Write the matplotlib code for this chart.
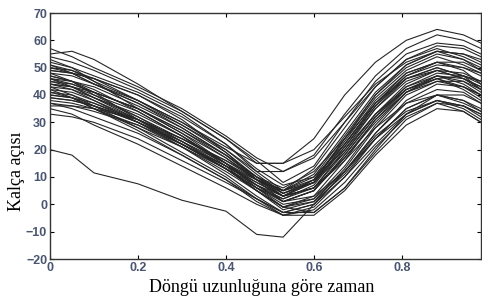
import matplotlib
matplotlib.use("Agg")
import matplotlib.pyplot as plt

# normalised gait cycle knots (same for every curve)
cycle = [0, 0.05, 0.1, 0.2, 0.3, 0.4, 0.47, 0.53, 0.6, 0.67, 0.74, 0.81, 0.88, 0.94, 0.98]

# hip angle curves (degrees)
c01 = [55, 56, 53, 44, 34, 24, 15, 15, 24, 40, 52, 60, 64, 62, 59]
c02 = [20, 18, 11.5, 7.5, 1.5, -2.5, -11, -12, 0, 12, 24, 33, 38, 36, 33]
c03 = [57, 54, 50, 43, 35, 25, 17, 12, 18, 33, 47, 57, 62, 60, 57]
c04 = [54, 52, 49, 42, 34, 24, 16, 8, 14, 30, 45, 55, 59, 58, 55]
c05 = [53, 50, 45, 35, 26, 17, 9, 3, 8, 24, 40, 51, 56, 55, 52]
c06 = [52, 50, 47, 41, 33, 22, 12, 5, 10, 25, 40, 50, 55, 53, 50]
c07 = [51, 49, 46, 38, 29, 19, 10, 3, 9, 24, 39, 49, 54, 51, 48]
c08 = [50, 49, 45, 38, 30, 20, 11, 4, 8, 22, 37, 48, 52, 50, 47]
c09 = [50, 48, 46, 40, 31, 19, 9, 1, 5, 18, 32, 43, 48, 47, 45]
c10 = [49, 48, 44, 37, 28, 18, 9, 3, 6, 20, 35, 46, 50, 47, 44]
c11 = [48, 45, 40, 32, 24, 16, 9, 4, 8, 21, 35, 45, 49, 46, 42]
c12 = [47, 45, 43, 36, 28, 18, 10, 4, 9, 23, 38, 48, 52, 49, 44]
c13 = [47, 45, 41, 31, 22, 14, 8, 3, 6, 17, 30, 41, 46, 47, 45]
c14 = [46, 45, 42, 34, 25, 15, 7, 2, 6, 19, 33, 43, 47, 44, 40]
c15 = [46, 43, 39, 31, 22, 13, 5, -1, 3, 16, 31, 42, 47, 45, 42]
c16 = [45, 44, 41, 35, 27, 17, 9, 5, 11, 26, 41, 51, 56, 55, 53]
c17 = [45, 43, 40, 34, 25, 14, 5, -2, 1, 13, 28, 40, 45, 45, 41]
c18 = [44, 43, 39, 32, 23, 14, 7, 1, 5, 18, 32, 42, 46, 43, 39]
c19 = [44, 43, 41, 35, 26, 15, 6, -1, 2, 14, 29, 41, 47, 46, 43]
c20 = [43, 42, 39, 33, 25, 15, 8, 3, 8, 22, 37, 47, 51, 50, 48]
c21 = [43, 40, 36, 28, 19, 10, 2, -3, 0, 12, 26, 37, 42, 41, 37]
c22 = [42, 41, 38, 31, 22, 13, 6, 2, 7, 21, 36, 46, 50, 47, 42]
c23 = [42, 39, 35, 27, 18, 9, 1, -4, -1, 10, 24, 35, 40, 38, 35]
c24 = [41, 40, 37, 30, 22, 13, 6, 1, 5, 17, 31, 41, 45, 43, 40]
c25 = [40, 39, 37, 31, 23, 13, 5, -1, 1, 11, 24, 35, 40, 38, 34]
c26 = [40, 39, 36, 30, 23, 15, 9, 5, 9, 20, 33, 42, 46, 42, 38]
c27 = [39, 38, 36, 30, 21, 11, 3, -3, -3, 6, 19, 31, 37, 36, 33]
c28 = [38, 37, 35, 29, 21, 13, 7, 3, 6, 16, 28, 37, 40, 37, 34]
c29 = [37, 35, 32, 26, 18, 9, 2, -4, -2, 8, 21, 32, 37, 34, 30]
c30 = [36, 36, 35, 31, 24, 15, 7, 1, 3, 12, 25, 34, 38, 35, 31]
c31 = [35, 33, 29, 22, 14, 6, 0, -4, -4, 5, 18, 29, 35, 34, 30]
c32 = [33, 32, 30, 24, 16, 8, 2, -3, 0, 10, 22, 33, 38, 36, 32]
c33 = [48, 47, 44, 38, 30, 21, 15, 15, 20, 32, 44, 52, 56, 53, 49]
c34 = [51, 48, 44, 37, 29, 20, 12, 12, 17, 30, 43, 53, 58, 57, 54]
c35 = [46, 44, 41, 35, 27, 18, 10, 5, 13, 28, 43, 53, 57, 54, 51]
c36 = [39, 38, 36, 31, 24, 16, 10, 6, 12, 24, 37, 46, 49, 46, 43]
c37 = [49, 48, 46, 40, 32, 22, 13, 7, 10, 22, 36, 47, 52, 52, 49]
c38 = [44, 42, 38, 30, 22, 14, 9, 5, 8, 19, 33, 44, 49, 48, 45]
c39 = [41, 39, 35, 28, 21, 12, 5, -1, -3, 6, 20, 33, 40, 40, 37]
c40 = [37, 36, 34, 29, 22, 13, 6, 0, 2, 12, 26, 38, 44, 43, 40]

curves = [c01, c02, c03, c04, c05, c06, c07, c08, c09, c10, c11, c12,
          c13, c14, c15, c16, c17, c18, c19, c20, c21, c22, c23, c24,
          c25, c26, c27, c28, c29, c30, c31, c32, c33, c34, c35, c36,
          c37, c38, c39, c40]

xticks = [0, 0.2, 0.4, 0.6, 0.8]
xticklabels = ["0", "0.2", "0.4", "0.6", "0.8"]
yticks = [-20, -10, 0, 10, 20, 30, 40, 50, 60, 70]

tick_color = "#4a5570"

fig = plt.figure(figsize=(4.82, 3.0), dpi=100)
ax = fig.add_axes([50 / 482, 1 - 259 / 300, 431 / 482, 246 / 300])

for c in curves:
    ax.plot(cycle, c, color="#262626", lw=0.8)

ax.set_xlim(0, 0.98)
ax.set_ylim(-20, 70)
ax.set_xticks(xticks)
ax.set_xticklabels(xticklabels)
ax.set_yticks(yticks)
ax.tick_params(direction="in", length=3, width=0.8, top=True, right=True,
               labelsize=9, labelcolor=tick_color, pad=2)
for lab in ax.get_xticklabels() + ax.get_yticklabels():
    lab.set_fontweight("bold")
    lab.set_family("Liberation Sans")
for s in ax.spines.values():
    s.set_color("#333333")
    s.set_linewidth(1.0)

fig.text(262 / 482, 1 - 292 / 300, "Döngü uzunluğuna göre zaman",
         family="Liberation Serif", fontsize=13, ha="center", va="baseline")
fig.text(16.5 / 482, 1 - 171 / 300, "Kalça açısı", family="Liberation Serif",
         fontsize=13, rotation=90, ha="center", va="center")

fig.savefig("out.png", dpi=100)
